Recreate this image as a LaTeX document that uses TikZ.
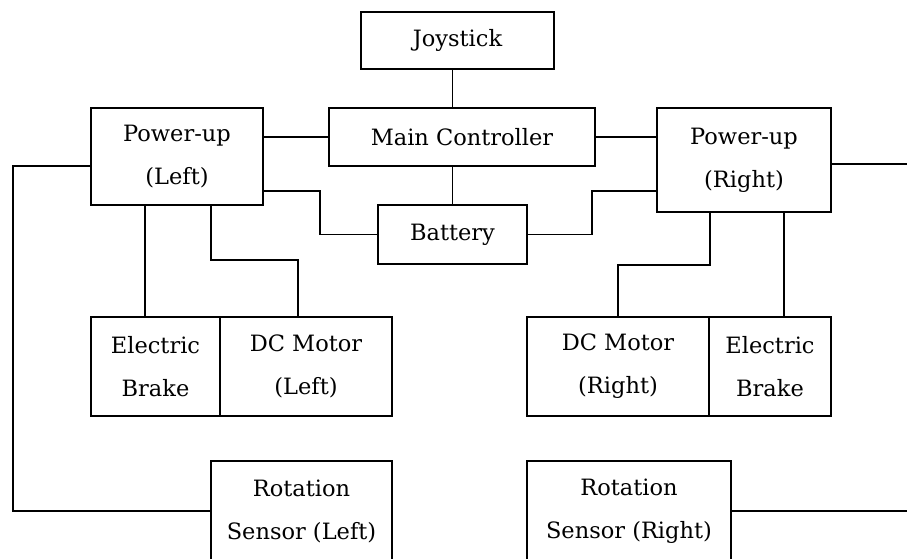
\documentclass[tikz,border=0pt]{standalone}
\usepackage{fontspec}
\setmainfont{DejaVu Serif}
\usetikzlibrary{positioning}

\tikzset{
  blockbox/.style={draw, line width=1.8pt, inner sep=0pt, outer sep=0pt, align=center,
    font=\fontsize{22.5}{43}\selectfont},
  wire/.style={line width=1.8pt}
}

\begin{document}
\begin{tikzpicture}[x=1pt, y=-1pt]

% Page
\clip (0,0) rectangle (907,558);
\useasboundingbox (0,0) rectangle (907,558);

% Top row
\node[blockbox, minimum width=193, minimum height=57] (joy) at (457.5,40.5) {Joystick};
\node[blockbox, minimum width=266, minimum height=58] (main) at (462,137) {Main Controller};
\node[blockbox, minimum width=172, minimum height=97] (pul) at (177,156.5) {Power-up\\(Left)};
\node[blockbox, minimum width=174, minimum height=104] (pur) at (744,160) {Power-up\\(Right)};
\node[blockbox, minimum width=149, minimum height=59] (bat) at (452.5,234.5) {Battery};

% Motor row
\node[blockbox, minimum width=129, minimum height=99] (brl) at (155.5,366.5) {Electric\\Brake};
\node[blockbox, minimum width=172, minimum height=99, right=0pt of brl] (dcl) {DC Motor\\(Left)};
\node[blockbox, minimum width=182, minimum height=99] (dcr) at (618,366.5) {DC Motor\\(Right)};
\node[blockbox, minimum width=122, minimum height=99, right=0pt of dcr] (brr) {Electric\\Brake};

% Sensor row (cut at the bottom edge)
\node[blockbox, minimum width=181, minimum height=100] (rsl) at (301.5,511) {Rotation\\Sensor (Left)};
\node[blockbox, minimum width=204, minimum height=100] (rsr) at (629,511) {Rotation\\Sensor (Right)};

% Right rim for the open wires
\coordinate (rimR) at (907,0);

% Controller links
\draw[wire] (joy.south -| bat) -- (main.north -| bat);
\draw[wire] (main.south -| bat) -- (bat.north);
\draw[wire] (pul.east |- main) -- (main.west);
\draw[wire] (main.east) -- (pur.west |- main);

% Battery links
\draw[wire] ([yshift=-34.5pt]pul.east) -- ++(57,0) |- (bat.west);
\draw[wire] ([yshift=-31pt]pur.west) -- ++(-65,0) |- (bat.east);

% Left side
\draw[wire] ([xshift=-32pt]pul.south) -- ([xshift=-32pt]pul.south |- brl.north);
\draw[wire] ([xshift=34pt]pul.south) -- ++(0,55) -| ([xshift=-8pt]dcl.north);
\draw[wire] ([yshift=-9.5pt]pul.west) -- ++(-78,0) |- (rsl.west);

% Right side
\draw[wire] ([xshift=-34pt]pur.south) -- ++(0,53) -| (dcr.north);
\draw[wire] ([xshift=40pt]pur.south) -- ([xshift=40pt]pur.south |- brr.north);
\draw[wire] ([yshift=-4pt]pur.east) -- ([yshift=-4pt]pur.east -| rimR);
\draw[wire] (rsr.east) -- (rsr.east -| rimR);

\end{tikzpicture}
\end{document}
